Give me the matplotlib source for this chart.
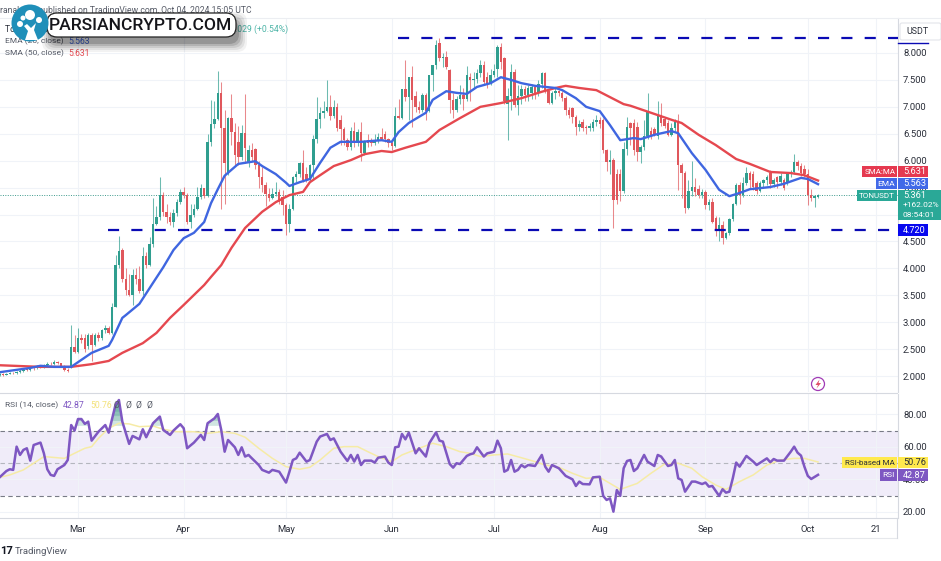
#!/usr/bin/env python3
import numpy as np
import matplotlib
matplotlib.use("Agg")
import matplotlib.pyplot as plt
from matplotlib.patches import Rectangle, Circle, FancyBboxPatch, Polygon

plt.rcParams['font.family'] = ['Roboto', 'DejaVu Sans']

W = 941
H = 561

# day number, 0 is Mar 1 2024
first_day = -23
opens = [
    2.02,2.03,2.02,2.04,2.06,2.05,2.07,2.10,2.12,2.11,
    2.15,2.14,2.18,2.17,2.20,2.23,2.22,2.26,2.24,2.18,
    2.12,2.17,2.54,2.45,2.70,2.70,2.55,2.76,2.58,2.76,
    2.70,2.85,2.89,2.80,3.29,4.06,4.34,3.81,3.60,3.50,
    3.87,3.80,3.57,4.23,4.06,4.46,4.83,4.96,5.36,5.05,
    4.96,4.87,5.02,5.24,5.42,5.36,4.86,5.00,5.11,5.33,
    5.49,5.34,6.35,6.69,6.77,7.25,6.60,5.76,6.79,6.54,
    6.34,6.07,6.51,5.95,6.20,6.22,5.92,5.70,5.55,5.39,
    5.30,5.39,5.42,5.33,5.18,4.83,5.11,5.70,5.75,5.96,
    5.76,5.65,5.92,6.40,6.77,6.88,6.93,7.00,6.83,7.00,
    6.75,6.59,6.38,6.25,6.56,6.35,6.54,6.14,6.39,6.37,
    6.33,6.38,6.44,6.50,6.40,6.32,6.28,6.83,6.80,7.33,
    7.18,7.55,7.20,7.00,6.94,7.22,6.93,7.60,7.78,8.18,
    7.90,7.93,7.68,7.13,6.95,7.14,7.22,7.15,7.55,7.50,
    7.52,7.63,7.78,7.55,7.42,7.60,7.70,8.12,7.90,7.05,
    7.20,7.65,7.03,7.20,7.34,7.22,7.25,7.36,7.25,7.43,
    7.62,7.30,7.08,7.25,7.30,7.25,7.17,6.95,6.98,6.82,
    6.62,6.72,6.63,6.60,6.60,6.72,6.75,6.76,6.19,5.98,
    6.02,5.75,5.75,5.43,6.21,6.70,6.70,6.63,6.17,6.26,
    6.45,6.55,6.58,6.46,6.85,6.77,6.70,6.48,6.60,6.72,
    5.92,5.77,5.12,5.43,5.52,5.48,5.37,5.42,5.18,5.23,
    4.93,4.72,4.80,4.56,4.65,4.91,5.20,5.55,5.36,5.58,
    5.78,5.76,5.58,5.44,5.58,5.64,5.78,5.56,5.69,5.60,
    5.64,5.60,5.75,5.79,5.98,5.90,5.85,5.76,5.36,5.30,5.33,
]
highs = [
    2.06,2.05,2.06,2.08,2.08,2.10,2.13,2.15,2.14,2.18,
    2.17,2.21,2.20,2.22,2.26,2.26,2.29,2.28,2.25,2.20,
    2.15,2.95,2.76,2.90,2.78,2.78,2.80,2.80,2.80,2.82,
    2.88,2.95,2.93,3.35,4.25,4.60,4.38,4.00,3.90,3.99,
    4.00,4.05,4.40,4.30,4.58,5.30,5.15,5.70,5.42,5.20,
    5.05,5.10,5.28,5.47,5.52,5.40,5.20,5.20,5.52,5.56,
    5.50,6.50,7.13,7.10,7.67,7.46,6.95,6.82,7.24,6.70,
    6.65,6.66,7.24,6.30,6.32,6.24,6.00,5.89,5.60,5.50,
    5.50,5.60,5.48,5.45,5.22,5.20,5.72,5.80,5.98,6.20,
    5.88,5.93,6.48,7.19,7.00,7.10,7.50,7.22,7.12,7.07,
    6.85,6.62,6.42,6.63,6.72,6.58,6.72,6.38,6.50,6.42,
    6.50,6.52,6.60,6.55,6.42,6.38,7.00,7.14,7.34,7.87,
    7.56,7.76,7.30,7.10,7.25,7.25,7.60,7.78,8.24,8.28,
    8.00,8.03,7.70,7.25,7.20,7.40,7.35,7.75,7.62,7.65,
    7.70,7.87,7.85,7.65,7.70,7.80,8.15,8.18,7.93,7.35,
    7.80,7.70,7.40,7.40,7.38,7.40,7.42,7.40,7.50,7.64,
    7.65,7.32,7.30,7.35,7.32,7.30,7.20,7.00,7.00,6.85,
    6.75,6.78,6.67,6.70,6.78,6.85,6.82,6.80,6.22,6.20,
    6.05,5.85,5.85,6.35,6.82,6.72,6.78,6.72,6.30,6.75,
    7.25,6.62,6.62,7.10,7.07,6.82,6.75,6.70,6.78,6.87,
    5.95,5.80,5.65,6.00,5.68,5.55,5.48,5.45,5.28,5.30,
    4.98,4.95,4.88,4.68,4.93,5.22,5.58,5.60,5.70,5.88,
    5.80,5.80,5.62,5.62,5.66,5.73,5.82,5.68,5.72,5.78,
    5.68,5.77,5.82,6.13,6.02,5.95,5.92,5.85,5.48,5.37,5.39,
]
lows = [
    2.00,2.00,2.01,2.03,2.03,2.04,2.06,2.08,2.09,2.10,
    2.12,2.13,2.15,2.15,2.19,2.20,2.21,2.22,2.16,2.09,
    2.08,2.14,2.42,2.43,2.62,2.45,2.50,2.28,2.55,2.65,
    2.66,2.80,2.78,2.78,3.28,4.00,3.75,3.50,3.48,3.32,
    3.70,3.55,3.50,4.00,4.04,4.40,4.80,4.90,4.98,4.84,
    4.80,4.77,4.98,5.20,5.30,4.82,4.74,4.95,5.08,5.28,
    5.30,5.32,6.28,6.60,6.75,5.10,5.20,5.74,6.30,5.90,
    5.92,6.02,5.95,5.88,6.00,5.85,5.50,5.42,5.15,5.25,
    5.28,5.34,5.20,5.00,4.62,4.68,5.09,5.60,5.70,5.60,
    5.60,5.60,5.65,6.32,6.60,6.80,6.90,6.75,6.80,6.55,
    6.30,6.30,6.20,6.20,6.25,6.28,6.00,6.10,6.25,6.28,
    6.30,6.33,6.38,6.35,6.25,6.20,6.25,6.78,6.78,7.10,
    6.75,6.63,6.90,6.88,6.90,6.75,6.90,7.29,7.70,7.85,
    7.74,7.70,6.88,6.79,6.90,7.05,6.95,7.10,7.10,7.35,
    7.45,7.55,7.40,7.35,7.40,7.55,7.55,7.70,7.05,6.38,
    6.95,7.00,6.85,7.05,7.10,7.10,7.15,7.15,7.20,7.35,
    7.25,7.05,7.05,7.15,7.20,7.10,6.85,6.80,6.70,6.47,
    6.55,6.55,6.50,6.55,6.55,6.65,6.60,6.15,5.80,5.76,
    4.74,5.20,5.25,5.40,6.10,6.30,6.10,6.00,5.95,6.20,
    6.40,6.40,6.45,6.40,6.65,6.60,6.45,6.45,6.55,5.46,
    5.30,5.02,5.10,5.35,5.35,5.30,5.30,5.10,5.08,4.85,
    4.60,4.50,4.45,4.55,4.62,4.88,5.18,5.20,5.33,5.55,
    5.50,5.45,5.38,5.42,5.50,5.55,5.50,5.52,5.50,5.55,
    5.45,5.55,5.70,5.75,5.82,5.72,5.70,5.18,5.26,5.14,5.30,
]
closes = [
    2.03,2.02,2.04,2.06,2.05,2.07,2.10,2.12,2.11,2.15,
    2.14,2.18,2.17,2.20,2.23,2.22,2.26,2.24,2.18,2.12,
    2.10,2.54,2.45,2.70,2.66,2.51,2.76,2.58,2.76,2.70,
    2.85,2.89,2.80,3.29,4.06,4.32,3.81,3.60,3.50,3.87,
    3.80,3.57,4.23,4.06,4.46,4.83,4.96,5.36,5.05,4.96,
    4.87,5.02,5.24,5.42,5.36,4.86,5.00,5.11,5.33,5.49,
    5.34,6.35,6.69,6.77,7.25,6.60,5.95,6.79,6.54,6.10,
    6.07,6.51,6.23,6.20,6.07,5.92,5.70,5.55,5.39,5.30,
    5.39,5.42,5.24,5.18,4.83,5.11,5.70,5.75,5.96,5.65,
    5.65,5.92,6.40,6.77,6.88,6.93,7.00,6.83,7.00,6.60,
    6.59,6.38,6.25,6.56,6.35,6.54,6.14,6.35,6.32,6.33,
    6.38,6.44,6.41,6.40,6.32,6.28,6.83,6.80,7.33,7.18,
    7.55,7.12,7.00,6.94,7.22,6.93,7.60,7.78,8.15,7.90,
    7.93,7.74,7.13,6.95,7.14,7.22,7.15,7.59,7.50,7.52,
    7.63,7.78,7.47,7.42,7.60,7.66,8.12,7.84,7.10,7.20,
    7.65,7.03,7.20,7.34,7.22,7.35,7.36,7.25,7.43,7.62,
    7.30,7.08,7.25,7.30,7.25,7.17,6.95,6.85,6.82,6.62,
    6.69,6.60,6.60,6.65,6.72,6.75,6.68,6.19,5.98,6.02,
    5.27,5.27,5.43,6.21,6.63,6.60,6.20,6.17,6.26,6.45,
    6.90,6.45,6.50,6.85,6.70,6.65,6.48,6.60,6.72,5.92,
    5.77,5.12,5.43,5.52,5.42,5.37,5.42,5.18,5.23,4.87,
    4.72,4.80,4.56,4.65,4.91,5.20,5.55,5.36,5.58,5.78,
    5.64,5.52,5.44,5.58,5.64,5.70,5.56,5.64,5.60,5.72,
    5.50,5.75,5.79,5.98,5.90,5.77,5.76,5.36,5.30,5.34,5.361,
]

ema_days = [-23,-14,-11,-7,-2,1,4,9,10,13,14,18,22,25,28,31,34,37,39,41,43,47,52,54,58,61,62,65,68,71,74,77,83,89,92,94,97,102,104,108,111,114,117,121,124,127,130,134,140,142,146,149,153,156,159,163,165,169,174,176,180,184,188,191,194,197,203,207,212,214,217]
ema_vals = [2.07,2.15,2.19,2.17,2.17,2.30,2.43,2.56,2.67,3.08,3.13,3.34,3.73,4.02,4.34,4.56,4.66,4.86,5.21,5.47,5.72,5.94,5.99,5.90,5.75,5.59,5.53,5.60,5.66,5.96,6.24,6.35,6.35,6.38,6.35,6.53,6.70,6.89,7.13,7.29,7.26,7.24,7.37,7.44,7.55,7.50,7.44,7.39,7.35,7.31,7.16,7.00,6.92,6.66,6.38,6.42,6.40,6.48,6.55,6.51,6.14,5.83,5.46,5.34,5.40,5.47,5.51,5.57,5.68,5.66,5.563]
sma_days = [-23,-11,-2,4,9,13,19,23,27,31,37,39,42,45,49,54,58,62,66,68,71,75,80,84,89,92,96,102,106,112,118,124,130,136,140,143,147,152,156,160,162,168,174,177,182,187,193,197,203,209,213,217]
sma_vals = [2.20,2.17,2.17,2.22,2.28,2.43,2.61,2.80,3.08,3.32,3.69,3.84,4.06,4.38,4.75,5.05,5.23,5.36,5.42,5.60,5.73,5.90,6.01,6.12,6.18,6.16,6.24,6.35,6.57,6.79,7.00,7.07,7.16,7.28,7.35,7.39,7.35,7.31,7.18,7.05,7.02,6.89,6.76,6.70,6.48,6.29,6.03,5.94,5.79,5.77,5.73,5.631]

resistance = 8.28
support = 4.72
last_price = 5.361

rsi_days = [-23,-21,-20,-19,-18,-17,-16,-15,-14,-13,-11,-10,-9,-8,-7,-6,-4,-3,-2,-1,0,1,2,3,4,6,8,9,11,12,13,15,16,18,19,20,22,24,25,27,28,30,31,32,34,36,37,38,40,41,42,43,44,46,47,48,49,50,51,53,54,56,57,59,61,62,63,64,65,67,68,70,71,73,74,75,77,79,80,81,82,83,84,86,87,88,90,91,92,93,94,95,96,97,99,100,102,103,105,106,107,109,110,111,112,114,115,
            116,117,119,120,122,123,124,125,126,127,128,129,130,131,132,134,136,137,138,139,141,143,145,146,147,148,150,151,153,154,155,156,157,158,159,160,161,162,163,164,166,167,169,170,171,173,174,175,176,177,178,180,181,183,184,185,186,188,189,190,191,192,193,194,196,198,199,202,203,204,205,207,209,210,211,212,213,214,215,217]
rsi_vals = [41.3,45.2,46.3,45.9,60.2,55.1,58.2,59.2,51.6,61.2,62.7,56.1,46.3,42.8,42.2,46.3,48.9,52.0,73.5,70.1,77.2,77.2,74.2,75.6,63.9,69.4,73.5,68.8,85.9,88.9,75.6,61.9,66.8,64.7,70.9,66.0,74.6,78.7,70.5,67.4,70.1,74.0,71.5,59.2,62.7,67.4,64.3,74.6,77.6,80.3,70.5,57.1,64.3,59.8,55.1,59.8,54.1,55.1,53.0,48.9,45.9,44.2,45.9,44.8,38.1,44.8,52.0,53.0,56.5,51.0,52.0,63.3,66.4,68.0,64.3,65.3,57.1,51.4,55.1,51.0,55.1,48.9,51.6,51.6,50.4,53.4,54.1,50.4,48.9,59.8,60.2,68.0,64.7,68.8,56.1,59.2,54.1,62.3,69.0,63.9,63.3,49.5,47.3,50.0,49.5,54.5,55.5,
            56.1,59.8,54.1,56.1,57.1,63.9,59.2,44.8,45.9,52.0,44.8,45.9,48.9,47.5,48.9,48.3,55.1,47.9,44.8,48.9,46.9,42.2,40.1,36.0,38.7,37.2,37.0,41.3,41.7,29.9,27.4,28.4,20.2,33.5,29.9,46.9,51.4,52.0,45.2,46.9,55.1,51.0,48.3,55.1,54.1,48.3,48.9,52.0,40.7,39.7,32.5,38.7,38.7,37.2,38.1,35.6,36.0,29.9,34.0,31.9,32.5,40.7,50.4,47.9,54.5,51.0,48.9,53.0,50.6,52.6,51.6,51.6,57.1,60.2,56.5,54.7,47.9,42.2,40.3,42.87]
rsi_ma_days = [-23,-20,-16,-10,-4,-2,2,4,6,9,12,15,18,22,25,29,34,38,42,46,49,53,57,61,65,68,71,75,78,82,85,88,92,95,100,104,108,112,115,118,122,126,130,134,137,141,145,149,153,156,159,164,168,172,176,180,183,187,190,194,198,202,206,210,213,217]
rsi_ma_vals = [41.3,42.8,45.9,54.1,53.0,55.1,59.2,60.2,65.3,71.5,74.6,74.2,72.5,72.9,70.9,69.4,69.4,68.4,69.4,68.4,66.0,59.2,53.0,47.9,46.3,47.5,52.0,59.2,60.2,60.2,57.1,54.1,51.0,55.1,59.2,62.3,60.2,57.1,56.1,54.1,55.1,55.7,53.4,51.0,48.9,47.5,43.8,40.7,41.3,37.6,33.9,37.6,43.8,49.5,50.0,46.9,41.7,36.6,33.9,38.7,42.8,48.9,52.0,53.0,53.0,50.76]

month_days = [0, 31, 61, 92, 122, 153, 184, 214, 234]
month_labels = ['Mar', 'Apr', 'May', 'Jun', 'Jul', 'Aug', 'Sep', 'Oct', '21']
price_ticks = [2.0, 2.5, 3.0, 3.5, 4.0, 4.5, 5.0, 5.5, 6.0, 6.5, 7.0, 7.5, 8.0]
rsi_ticks = [20, 40, 60, 80]

GREEN = '#2f9e8f'
RED = '#e0575c'
BLUE = '#3f66e0'
SMA_RED = '#e5484f'
PURPLE = '#7e57c2'
DASH = '#0a0ab4'
GRID = '#f0f3f8'
TEXT = '#2a2e39'
AXIS = '#d6d9e0'


def px_axes(fig, x0, y0, x1, y1):
    return fig.add_axes((x0 / W, 1 - y1 / H, (x1 - x0) / W, (y1 - y0) / H))


fig = plt.figure(figsize=(W / 100, H / 100), dpi=100, facecolor='white')

# ----- price panel
ax = px_axes(fig, 0, 18, 897.5, 392)
ax.set_xlim(-22.87, 240.3)
ax.set_ylim(1.703, 8.65)
ax.set_xticks(month_days)
ax.set_yticks(price_ticks)
ax.set_yticklabels(['%.3f' % p for p in price_ticks])
ax.yaxis.tick_right()
ax.tick_params(axis='both', length=0, labelsize=6.8, labelcolor=TEXT, pad=4)
ax.tick_params(axis='x', labelbottom=False)
ax.grid(True, color=GRID, lw=0.8)
ax.set_axisbelow(True)
for s in ['top', 'bottom', 'left']:
    ax.spines[s].set_visible(False)
ax.spines['right'].set_color(AXIS)

days = np.arange(first_day, first_day + len(closes))
o = np.array(opens)
h = np.array(highs)
l = np.array(lows)
c = np.array(closes)
up = c >= o
cols = np.where(up, GREEN, RED)
ax.vlines(days, l, h, colors=cols, lw=0.75, alpha=0.7, zorder=2)
ax.bar(days, np.maximum(np.abs(c - o), 0.012), bottom=np.minimum(o, c), width=0.72,
       color=cols, lw=0, zorder=3)

ax.plot(sma_days, sma_vals, color=SMA_RED, lw=1.7, zorder=4, solid_joinstyle='round')
ax.plot(ema_days, ema_vals, color=BLUE, lw=1.7, zorder=5, solid_joinstyle='round')

ax.axhline(last_price, color='#3d9a8c', lw=0.7, ls=(0, (1, 1.5)), zorder=1)
ax.plot([93.8, 240.3], [resistance, resistance], color=DASH, lw=1.6, ls=(0, (5, 5.5)),
        dash_capstyle='butt', zorder=6)
ax.plot([8.8, 240.3], [support, support], color=DASH, lw=1.6, ls=(0, (5, 5.5)),
        dash_capstyle='butt', zorder=6)

# ----- RSI panel
ax2 = px_axes(fig, 0, 394, 897.5, 518)
ax2.set_xlim(-22.87, 240.3)
ax2.set_ylim(16.3, 92.6)
ax2.set_xticks(month_days)
ax2.set_xticklabels(month_labels)
ax2.set_yticks(rsi_ticks)
ax2.set_yticklabels(['%.2f' % r for r in rsi_ticks])
ax2.yaxis.tick_right()
ax2.tick_params(axis='both', length=0, labelsize=6.8, labelcolor=TEXT, pad=4)
ax2.tick_params(axis='x', pad=5)
ax2.grid(True, color=GRID, lw=0.8)
ax2.set_axisbelow(True)
for s in ['top', 'left']:
    ax2.spines[s].set_visible(False)
ax2.spines['right'].set_color(AXIS)
ax2.spines['bottom'].set_color(AXIS)

ax2.axhspan(30, 70, color='#f0ecf9', lw=0, zorder=0.5)
for lev, col in [(70, '#787b86'), (50, '#b4b6be'), (30, '#787b86')]:
    ax2.axhline(lev, color=col, lw=0.8, ls=(0, (4, 3)), zorder=1)

rsi_arr = np.array(rsi_vals)
for thr in [73, 76, 79, 82, 85]:
    ax2.fill_between(rsi_days, rsi_arr, thr, where=rsi_arr > thr, interpolate=True,
                     color='#2a8c7a', alpha=0.22, lw=0, zorder=1.5)
ax2.plot(rsi_ma_days, rsi_ma_vals, color='#f6eba6', lw=1.1, zorder=2)
ax2.plot(rsi_days, rsi_vals, color=PURPLE, lw=1.8, zorder=3, solid_joinstyle='round')

# ----- overlay, tags and logo, in pixels
ov = fig.add_axes((0, 0, 1, 1), zorder=10)
ov.set_xlim(0, W)
ov.set_ylim(H, 0)
ov.axis('off')
ov.patch.set_alpha(0)


def box(x0, y0, x1, y1, color, **kw):
    ov.add_patch(Rectangle((x0, y0), x1 - x0, y1 - y0, facecolor=color, lw=0, **kw))


def txt(x, y, s, color=TEXT, size=7, ha='left', **kw):
    ov.text(x, y, s, color=color, fontsize=size, ha=ha, va='center', **kw)


# frame lines
ov.plot([0, 941], [18, 18], color='#eceef2', lw=0.8)
ov.plot([0, 897.5], [393, 393], color=AXIS, lw=0.8)
ov.plot([0, 897.5], [538, 538], color='#e6e8ec', lw=0.8)
ov.plot([897.5, 897.5], [518, 538], color=AXIS, lw=0.8)

# USDT box
ov.add_patch(FancyBboxPatch((900, 23), 41, 17, boxstyle='round,pad=0,rounding_size=2',
                            facecolor='white', edgecolor='#e3e5ea', lw=0.8))
txt(906, 31, 'USDT', size=6.4)
ov.plot([898, 928], [43, 43], color=DASH, lw=1.0)

# price tags
tag_w = 928
box(862, 166, 897, 177, '#e53950')
txt(880, 171.5, 'SMA:MA', color='white', size=5.8, ha='center')
box(898, 166, tag_w, 177, '#e53950')
txt(903, 171.5, '5.631', color='white', size=6.6)
box(876, 178, 897, 189, '#4169e8')
txt(886.5, 183.5, 'EMA', color='white', size=6, ha='center')
box(898, 178, tag_w, 189, '#4169e8')
txt(903, 183.5, '5.563', color='white', size=6.6)
box(857, 190, 897, 201, '#2aa897')
txt(877, 195.5, 'TONUSDT', color='white', size=5.8, ha='center')
box(898, 190, 941, 220, '#2aa897')
txt(903, 195.5, '5.361', color='white', size=6.6)
txt(903, 205, '+162.02%', color='white', size=6.0)
txt(903, 214.5, '08:54:01', color='white', size=6.0)
box(898, 224, tag_w, 236, '#0808ee')
txt(903, 230, '4.720', color='white', size=6.6)

# rsi tags
box(842, 457, 897, 468, '#ffe94d')
txt(869.5, 462.5, 'RSI-based MA', color='#2a2e39', size=5.8, ha='center')
box(898, 457, tag_w, 468, '#ffe94d')
txt(903, 462.5, '50.76', color='#2a2e39', size=6.6)
box(880, 469, 897, 481, PURPLE)
txt(888.5, 475, 'RSI', color='white', size=6, ha='center')
box(898, 469, tag_w, 481, PURPLE)
txt(903, 475, '42.87', color='white', size=6.6)

# legends
txt(252, 10, 'ranakoti1 published on TradingView.com, Oct 04, 2024 15:05 UTC', color='#555a66', size=6.2, ha='right')
txt(5, 29, 'Toncoin / TetherUS, 1D', size=6.2)
txt(235, 29, '.029 (+0.54%)', color='#4fb5a8', size=6.2)
txt(5, 41, 'EMA (20, close)', color='#555a66', size=6.0)
txt(68, 41, '5.563', color=BLUE, size=6.2)
txt(5, 53, 'SMA (50, close)', color='#555a66', size=6.0)
txt(68, 53, '5.631', color=SMA_RED, size=6.2)
txt(5, 405, 'RSI (14, close)', color='#555a66', size=6.0)
txt(63, 405, '42.87', color=PURPLE, size=6.2)
txt(90, 405, '50.76', color='#f3e27a', size=6.2)
for xp in [114, 126, 136, 147]:
    txt(xp, 405, 'Ø', color='#555a66', size=6.2)

# footer
txt(0, 551, '17', color='#131722', size=8, fontweight='bold')
txt(15, 551, 'TradingView', color='#555a66', size=6.8)

# bolt icon near the last bars
ov.add_patch(Circle((818, 384), 6.5, facecolor='white', edgecolor='#a13bb5', lw=0.9))
ov.add_patch(Polygon([(819.5, 379.5), (815.5, 385), (818, 385), (816.5, 388.5), (821, 383), (818.5, 383)],
                     facecolor='#e04f6a', lw=0))

# watermark pill with shadow, above the legend texts
for grow, al in [(8, 0.05), (6, 0.07), (4, 0.09), (2, 0.12), (0, 0.16)]:
    ov.add_patch(FancyBboxPatch((50, 20), 189, 24,
                                boxstyle='round,pad=%d,rounding_size=10' % grow,
                                facecolor='black', alpha=al, lw=0, zorder=4))
ov.add_patch(FancyBboxPatch((47, 13), 189, 24, boxstyle='round,pad=0,rounding_size=10',
                            facecolor='white', edgecolor='#222222', lw=0.9, zorder=5))
ov.text(49, 25, 'PARSIANCRYPTO.COM', color='#15151a', fontsize=12.6, fontweight='medium',
        ha='left', va='center', zorder=6)
ov.add_patch(Circle((30, 23), 18.5, facecolor='#1f8fb9', lw=0, zorder=7))
for cx, cy, r in [(30, 15, 5), (20, 24, 3), (23, 18, 2.5), (39, 20, 3)]:
    ov.add_patch(Circle((cx, cy), r, facecolor='white', lw=0, zorder=8))
ov.add_patch(Polygon([(25, 40), (38, 40), (34, 30), (36, 23), (31, 28), (27, 24), (24, 26), (28, 31)],
                     facecolor='white', lw=0, zorder=8))

fig.savefig('out.png', dpi=100)
